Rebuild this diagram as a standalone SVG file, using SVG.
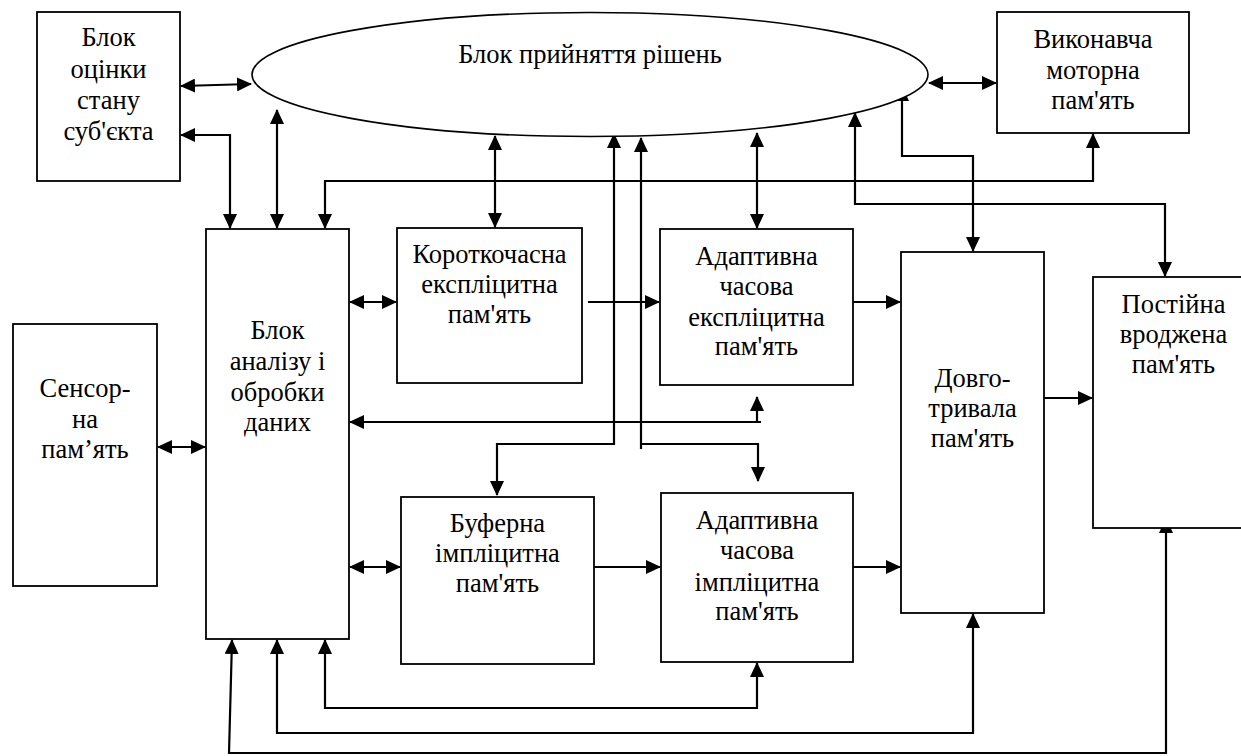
<svg xmlns="http://www.w3.org/2000/svg" width="1241" height="756" viewBox="0 0 1241 756">
<style>
.box{fill:#fff;stroke:#000;stroke-width:1.8}
.ell{fill:#fff;stroke:#000;stroke-width:1.6}
.t{font-family:'Liberation Serif','DejaVu Serif','Times New Roman',serif;font-size:26.5px;fill:#000;text-anchor:middle}
.c{fill:none;stroke:#000;stroke-width:2.2}
.d{marker-start:url(#ah);marker-end:url(#ah)}
.e{marker-end:url(#ah)}
</style>
<defs>
<marker id="ah" markerWidth="15" markerHeight="14" refX="14" refY="7" orient="auto-start-reverse" markerUnits="userSpaceOnUse">
<path d="M0,0 L15,7 L0,14 z" fill="#000"/>
</marker>
</defs>
<rect width="1241" height="756" fill="#fff"/>

<g id="connectors">
<path class="c d" d="M181,86 L251,84"/>
<path class="c d" d="M181,135 H230 V228"/>
<path class="c d" d="M277,110 V228"/>
<path class="c d" d="M325,228 V181 H1093 V134"/>
<path class="c d" d="M495,136 V227"/>
<path class="c d" d="M757,133 V228"/>
<path class="c d" d="M614,134 V444 H497 V495"/>
<path class="c d" d="M641,138 V449 M641,444 H758 V481"/>
<path class="c d" d="M757,397 V422 M761,422 H350"/>
<path class="c d" d="M350,302 H396"/>
<path class="c e" d="M588,302 H659"/>
<path class="c e" d="M853,302 H900"/>
<path class="c e" d="M1044,398 H1092"/>
<path class="c d" d="M158,447 H205"/>
<path class="c d" d="M350,567 H400"/>
<path class="c e" d="M588,567 H660"/>
<path class="c e" d="M853,567 H900"/>
<path class="c d" d="M929,83 H996"/>
<path class="c d" d="M902,87 V156 H973 V251"/>
<path class="c d" d="M855,113 V204 H1165 V276"/>
<path class="c d" d="M325,640 V708 H757 V663"/>
<path class="c d" d="M277,640 V733 H973 V614"/>
<path class="c d" d="M232,640 L229,753 H1166 V519"/>
</g>

<g id="decision">
<ellipse class="ell" cx="590" cy="74.5" rx="338" ry="62"/>
<text class="t" x="590" y="63">Блок прийняття рішень</text>
</g>

<g id="state">
<rect class="box" x="37" y="12" width="143" height="169"/>
<text class="t" x="108.5" y="46">Блок</text>
<text class="t" x="108.5" y="78">оцінки</text>
<text class="t" x="108.5" y="109">стану</text>
<text class="t" x="108.5" y="140">суб'єкта</text>
</g>

<g id="motor">
<rect class="box" x="997" y="12" width="192" height="121"/>
<text class="t" x="1093" y="48">Виконавча</text>
<text class="t" x="1093" y="79">моторна</text>
<text class="t" x="1093" y="109">пам'ять</text>
</g>

<g id="analysis">
<rect class="box" x="206" y="229" width="143" height="410"/>
<text class="t" x="277.5" y="339">Блок</text>
<text class="t" x="277.5" y="370">аналізу і</text>
<text class="t" x="277.5" y="401">обробки</text>
<text class="t" x="277.5" y="431">даних</text>
</g>

<g id="sensor">
<rect class="box" x="13" y="324" width="144" height="262"/>
<text class="t" x="85" y="397">Сенсор-</text>
<text class="t" x="85" y="428">на</text>
<text class="t" x="85" y="458">пам’ять</text>
</g>

<g id="short-explicit">
<rect class="box" x="397" y="228" width="185" height="155"/>
<text class="t" x="489.5" y="263">Короткочасна</text>
<text class="t" x="489.5" y="293">експліцитна</text>
<text class="t" x="489.5" y="323">пам'ять</text>
</g>

<g id="adaptive-explicit">
<rect class="box" x="660" y="229" width="193" height="156"/>
<text class="t" x="756.5" y="265">Адаптивна</text>
<text class="t" x="756.5" y="295">часова</text>
<text class="t" x="756.5" y="326">експліцитна</text>
<text class="t" x="756.5" y="355">пам'ять</text>
</g>

<g id="buffer-implicit">
<rect class="box" x="401" y="497" width="193" height="167"/>
<text class="t" x="497.5" y="532">Буферна</text>
<text class="t" x="497.5" y="562">імпліцитна</text>
<text class="t" x="497.5" y="592">пам'ять</text>
</g>

<g id="adaptive-implicit">
<rect class="box" x="661" y="493" width="192" height="169"/>
<text class="t" x="757" y="529">Адаптивна</text>
<text class="t" x="757" y="559">часова</text>
<text class="t" x="757" y="591">імпліцитна</text>
<text class="t" x="757" y="620">пам'ять</text>
</g>

<g id="long-term">
<rect class="box" x="901" y="252" width="143" height="361"/>
<text class="t" x="972.5" y="387">Довго-</text>
<text class="t" x="972.5" y="417">тривала</text>
<text class="t" x="972.5" y="447">пам'ять</text>
</g>

<g id="innate">
<rect class="box" x="1093" y="277" width="162" height="251"/>
<text class="t" x="1173.5" y="313">Постійна</text>
<text class="t" x="1173.5" y="343">вроджена</text>
<text class="t" x="1173.5" y="373">пам'ять</text>
</g>
</svg>
